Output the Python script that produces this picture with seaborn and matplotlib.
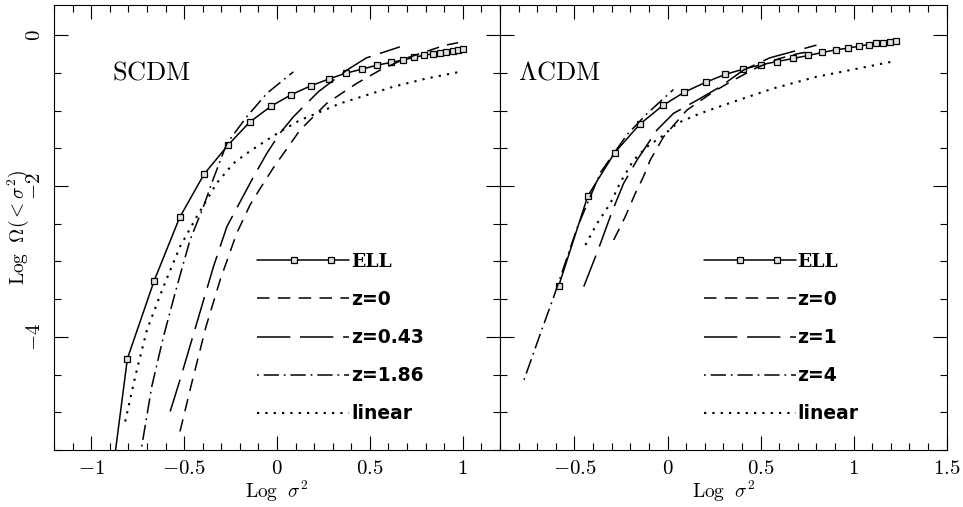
import numpy as np
import matplotlib
matplotlib.use("Agg")
import matplotlib.pyplot as plt
import seaborn as sns
from matplotlib.lines import Line2D
from matplotlib.ticker import MultipleLocator, FuncFormatter
from matplotlib.legend_handler import HandlerLine2D

# ---------------- data ----------------
# Left panel: SCDM
scdm_ell_x = [-0.945, -0.805, -0.661, -0.524, -0.392, -0.262, -0.147, -0.031, 0.075, 0.181,
              0.281, 0.371, 0.459, 0.539, 0.613, 0.679, 0.738, 0.792, 0.837, 0.876,
              0.912, 0.948, 0.975, 1.002]
scdm_ell_y = [-6.95, -4.287, -3.255, -2.417, -1.841, -1.453, -1.152, -0.940, -0.791, -0.672,
              -0.579, -0.503, -0.450, -0.397, -0.362, -0.327, -0.295, -0.265, -0.248, -0.234,
              -0.221, -0.208, -0.199, -0.189]
scdm_z0_x = [-0.522, -0.459, -0.382, -0.306, -0.217, -0.145, -0.080, -0.020, 0.124, 0.267,
             0.428, 0.554, 0.700, 0.800, 0.900, 0.975]
scdm_z0_y = [-5.254, -4.613, -3.863, -3.245, -2.627, -2.250, -1.990, -1.760, -1.258, -0.905,
             -0.640, -0.464, -0.300, -0.220, -0.135, -0.100]
scdm_z043_x = [-0.575, -0.522, -0.432, -0.342, -0.270, -0.136, -0.055, 0.016, 0.088, 0.222,
               0.375, 0.482, 0.661]
scdm_z043_y = [-4.989, -4.570, -3.819, -3.069, -2.539, -1.921, -1.567, -1.300, -1.082, -0.751,
               -0.464, -0.300, -0.155]
scdm_z186_x = [-0.728, -0.674, -0.611, -0.539, -0.468, -0.396, -0.342, -0.270, -0.163, -0.055, 0.088]
scdm_z186_y = [-5.453, -4.658, -3.996, -3.334, -2.715, -2.274, -1.900, -1.435, -1.082, -0.772, -0.486]
scdm_lin_x = [-0.817, -0.763, -0.700, -0.611, -0.522, -0.432, -0.378, -0.324, -0.235, -0.163,
              -0.055, 0.016, 0.124, 0.213, 0.339, 0.482, 0.625, 0.805, 0.984]
scdm_lin_y = [-5.122, -4.526, -3.907, -3.334, -2.804, -2.406, -2.185, -1.960, -1.700, -1.567,
              -1.391, -1.280, -1.126, -1.037, -0.905, -0.795, -0.684, -0.574, -0.486]

# Right panel: LambdaCDM
lcdm_ell_x = [-0.584, -0.428, -0.284, -0.150, -0.025, 0.091, 0.206, 0.309, 0.407, 0.502,
              0.589, 0.675, 0.755, 0.832, 0.904, 0.969, 1.027, 1.080, 1.122, 1.157,
              1.193, 1.225]
lcdm_ell_y = [-3.320, -2.130, -1.559, -1.183, -0.931, -0.755, -0.623, -0.521, -0.450, -0.393,
              -0.349, -0.309, -0.269, -0.229, -0.194, -0.172, -0.146, -0.124, -0.110, -0.102,
              -0.093, -0.080]
lcdm_z0_x = [-0.289, -0.227, -0.173, -0.130, -0.093, -0.021, 0.104, 0.246, 0.354, 0.480,
             0.600, 0.700, 0.780]
lcdm_z0_y = [-2.715, -2.406, -2.097, -1.880, -1.656, -1.347, -0.993, -0.751, -0.596, -0.430,
             -0.310, -0.245, -0.210]
lcdm_z1_x = [-0.450, -0.387, -0.360, -0.298, -0.236, -0.164, -0.057, 0.032, 0.175, 0.282,
             0.407, 0.550, 0.800]
lcdm_z1_y = [-3.334, -2.936, -2.760, -2.340, -1.965, -1.656, -1.258, -1.037, -0.839, -0.685,
             -0.464, -0.300, -0.132]
lcdm_z4_x = [-0.771, -0.682, -0.611, -0.485, -0.360, -0.218, -0.110, 0.032]
lcdm_z4_y = [-4.570, -3.951, -3.466, -2.550, -1.820, -1.320, -1.040, -0.720]
lcdm_lin_x = [-0.441, -0.378, -0.307, -0.253, -0.182, -0.110, -0.021, 0.050, 0.175, 0.354,
              0.568, 0.800, 1.068, 1.202]
lcdm_lin_y = [-2.781, -2.494, -2.229, -1.950, -1.656, -1.479, -1.325, -1.170, -1.037, -0.883,
              -0.706, -0.552, -0.420, -0.353]

scdm_labels = ["ELL", "z=0", "z=0.43", "z=1.86", "linear"]
lcdm_labels = ["ELL", "z=0", "z=1", "z=4", "linear"]
panel_titles = [r"$\mathrm{SCDM}$", r"$\Lambda\mathrm{CDM}$"]
xlabel_text = r"$\mathrm{Log}\ \ \sigma^2$"
ylabel_text = r"$\mathrm{Log}\ \ \Omega(<\sigma^2)$"

# ---------------- style ----------------
sns.set_theme(style="ticks")
plt.rcParams.update({
    "mathtext.fontset": "cm",
    "font.family": ["DejaVu Sans"],
    "lines.scale_dashes": False,
    "axes.linewidth": 0.8,
    "axes.edgecolor": "black",
    "text.color": "black",
    "axes.labelcolor": "black",
    "xtick.color": "black",
    "ytick.color": "black",
    "xtick.labelcolor": "black",
    "ytick.labelcolor": "black",
})

LW = 1.1
styles = {
    "ELL": dict(linestyle="-", lw=LW, marker="s", markersize=4.6, mfc="#e2e2e2",
                mec="black", mew=0.9),
    "z0": dict(linestyle=(0, (9, 6)), lw=LW),
    "zmid": dict(linestyle=(0, (24, 7)), lw=LW),
    "zhigh": dict(linestyle=(0, (1.3, 3.5, 11, 3.5)), lw=LW),
    "lin": dict(linestyle=(0, (1.6, 4.4)), lw=1.5),
}


class EllHandler(HandlerLine2D):
    """Legend line spanning the whole handle, with two markers at 40% and 80%."""

    def create_artists(self, legend, orig_handle, xdescent, ydescent, width, height,
                       fontsize, trans):
        x0 = -xdescent
        xdata = np.array([x0, x0 + 0.4 * width, x0 + 0.8 * width, x0 + width])
        ydata = np.full_like(xdata, (height - ydescent) / 2)
        legline = Line2D(xdata, ydata)
        self.update_prop(legline, orig_handle, legend)
        legline.set_markevery([1, 2])
        legline.set_transform(trans)
        return [legline]


fig = plt.figure(figsize=(9.63, 5.07), dpi=100)
ax1 = fig.add_axes([0.0561, 0.1124, 0.4631, 0.8777])
ax2 = fig.add_axes([0.5192, 0.1124, 0.4639, 0.8777], sharey=ax1)

panels = [
    (ax1, [(scdm_ell_x, scdm_ell_y, "ELL"), (scdm_z0_x, scdm_z0_y, "z0"),
           (scdm_z043_x, scdm_z043_y, "zmid"), (scdm_z186_x, scdm_z186_y, "zhigh"),
           (scdm_lin_x, scdm_lin_y, "lin")], scdm_labels, (-1.2, 1.2), 0.13),
    (ax2, [(lcdm_ell_x, lcdm_ell_y, "ELL"), (lcdm_z0_x, lcdm_z0_y, "z0"),
           (lcdm_z1_x, lcdm_z1_y, "zmid"), (lcdm_z4_x, lcdm_z4_y, "zhigh"),
           (lcdm_lin_x, lcdm_lin_y, "lin")], lcdm_labels, (-0.9, 1.5), 0.04),
]

fmt = FuncFormatter(lambda v, p: "$%g$" % v)

for i, (ax, series, labels, xlim, tx) in enumerate(panels):
    handles = []
    for (xs, ys, key), lab in zip(series, labels):
        n0 = len(ax.lines)
        sns.lineplot(x=xs, y=ys, ax=ax, color="black", sort=False,
                     estimator=None, **styles[key])
        handles.append(ax.lines[n0])
    ax.set_xlim(*xlim)
    ax.set_ylim(-5.5, 0.4)
    ax.xaxis.set_major_locator(MultipleLocator(0.5))
    ax.xaxis.set_minor_locator(MultipleLocator(0.1))
    ax.yaxis.set_major_locator(MultipleLocator(2))
    ax.yaxis.set_minor_locator(MultipleLocator(0.5))
    ax.tick_params(which="both", direction="in", top=True, right=True, color="black",
                   labelcolor="black")
    ax.tick_params(which="major", length=10, width=0.8)
    ax.tick_params(which="minor", length=5, width=0.8)
    ax.tick_params(axis="x", labelsize=15, pad=6)
    ax.xaxis.set_major_formatter(fmt)
    ax.set_xlabel(xlabel_text, fontsize=14, va="center", color="black")
    ax.xaxis.set_label_coords(0.5, -0.092)
    for s in ax.spines.values():
        s.set_visible(True)
        s.set_color("black")
    ax.text(tx, 0.848, panel_titles[i], transform=ax.transAxes, fontsize=19,
            ha="left", va="center", color="black")
    leg = ax.legend(handles, labels, loc="center left", bbox_to_anchor=(0.456, 0.2515),
                    frameon=False, handlelength=4.9, handletextpad=0.1,
                    labelspacing=1.02, borderpad=0, borderaxespad=0, numpoints=1,
                    labelcolor="black",
                    prop={"weight": "bold", "size": 13.5, "family": "DejaVu Sans"},
                    handler_map={handles[0]: EllHandler()})
    leg.get_texts()[0].set_family("DejaVu Serif")

ax1.yaxis.set_major_formatter(fmt)
ax1.tick_params(axis="y", labelsize=15, pad=7, labelrotation=90)
for t in ax1.get_yticklabels():
    t.set_verticalalignment("center")
ax1.set_ylabel(ylabel_text, fontsize=14, va="center", color="black")
ax1.yaxis.set_label_coords(-0.081, 0.5)
ax2.tick_params(axis="y", labelleft=False)

fig.savefig("out.png", dpi=100)
